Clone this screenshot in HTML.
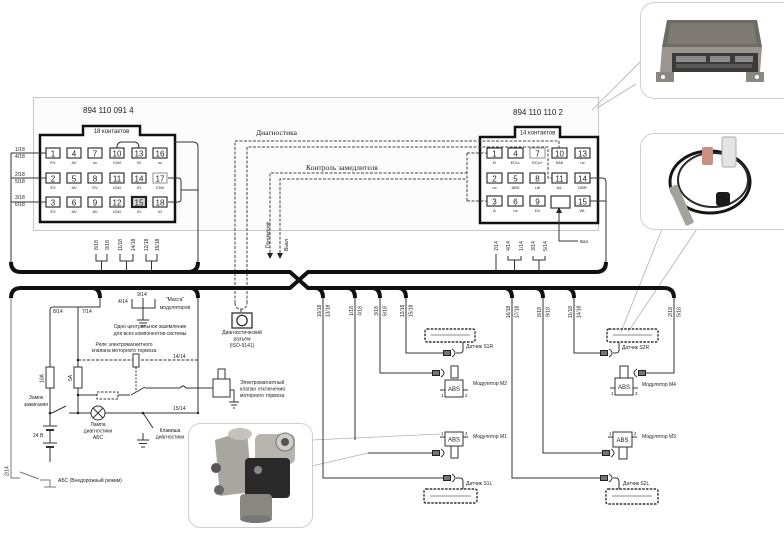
<!DOCTYPE html>
<html><head><meta charset="utf-8"><style>
html,body{margin:0;padding:0;background:#fff;}
svg{display:block;}
text{font-family:"Liberation Sans","DejaVu Sans",sans-serif;fill:#222;}
.s{font-size:5px;}
.p{font-size:4px;}
.n{font-size:8px;}
.ser{font-family:"Liberation Serif","DejaVu Serif",serif;font-size:7.5px;}
</style></head><body>
<svg width="784" height="534" viewBox="0 0 784 534" xmlns="http://www.w3.org/2000/svg">
<rect width="784" height="534" fill="#fff"/>

<!-- frame -->
<rect x="33.5" y="97.5" width="565" height="133" fill="#fcfcfc" stroke="#c8c8c8"/>

<!-- callouts ECU -->
<g stroke="#b0b0b0" stroke-width="0.8" fill="none">
<path d="M642,60 L592,110"/><path d="M636,84 L597,108"/>
<path d="M662,229 L621,332"/><path d="M697,229 L628,332"/>
<path d="M312,440 L440,434"/><path d="M312,466 L368,453"/>
</g>

<!-- ECU photo panel -->
<rect x="640.5" y="2.5" width="160" height="96" rx="14" fill="#fff" stroke="#d0d0d0"/>
<polygon points="667,20 757,20 762,47 662,47" fill="#6e6a64"/>
<polygon points="671,23 753,23 757,44 667,44" fill="#7f7b74"/>
<polygon points="662,47 762,47 760,72 660,72" fill="#9a968f"/>
<rect x="672" y="53" width="86" height="19" fill="#3b3a38"/>
<rect x="676" y="56" width="30" height="6" fill="#8a8a8a"/>
<rect x="710" y="56" width="20" height="6" fill="#8a8a8a"/>
<rect x="735" y="56" width="18" height="6" fill="#8a8a8a"/>
<rect x="676" y="64" width="76" height="4" fill="#5a5a5a"/>
<rect x="656" y="72" width="18" height="10" fill="#8a8680"/>
<rect x="746" y="72" width="18" height="10" fill="#8a8680"/>
<circle cx="663" cy="77" r="2" fill="#fff"/><circle cx="757" cy="77" r="2" fill="#fff"/>

<!-- sensor photo panel -->
<rect x="640.5" y="133.5" width="160" height="96" rx="14" fill="#fff" stroke="#d0d0d0"/>
<ellipse cx="710" cy="182" rx="40" ry="31" stroke="#151515" stroke-width="3" fill="none"/>
<ellipse cx="713" cy="180" rx="35" ry="27" stroke="#2a2a2a" stroke-width="2" fill="none"/>
<path d="M708,165 Q706,152 708,148 M728,166 Q730,160 729,150" stroke="#222" stroke-width="2" fill="none"/>
<rect x="702" y="147" width="11" height="18" rx="2" fill="#c9907f"/>
<rect x="722" y="137" width="14" height="30" rx="2" fill="#e4e4e4" stroke="#aaa"/>
<rect x="-4.5" y="0" width="9" height="42" rx="2" fill="#a5a29c" transform="translate(673,186) rotate(-24)"/>
<rect x="716" y="192" width="14" height="14" rx="3" fill="#1a1a1a"/>

<!-- valve photo panel -->
<rect x="188.5" y="423.5" width="124" height="104" rx="12" fill="#fff" stroke="#cfcfcf"/>
<polygon points="215,440 247,430 252,492 220,496" fill="#a9a6a0"/>
<ellipse cx="240" cy="434" rx="12" ry="6" fill="#c5c2bc"/>
<rect x="255" y="434" width="40" height="30" rx="6" fill="#b8b5af"/>
<circle cx="285" cy="442" r="9" fill="#d0cdc7" stroke="#777"/>
<circle cx="285" cy="442" r="4" fill="#555"/>
<rect x="245" y="458" width="45" height="40" rx="4" fill="#2a2a2a"/>
<circle cx="216" cy="468" r="5" fill="#555"/>
<circle cx="219" cy="490" r="5" fill="#666"/>
<circle cx="258" cy="470" r="4" fill="#888"/>
<rect x="240" y="494" width="32" height="26" rx="4" fill="#8a8780"/>
<ellipse cx="256" cy="519" rx="16" ry="4" fill="#777"/>

<!-- left connector -->
<path d="M40,135 H83 V126 H140 V135 H175 V222 H40 Z" fill="#fff" stroke="#111" stroke-width="2.5"/>
<text x="111.5" y="133" font-size="6" text-anchor="middle">18 контактов</text>
<text x="83" y="113" font-size="8">894 110 091 4</text>
<g fill="#fff" stroke="#222" stroke-width="1.1">
<rect x="46" y="148" width="14" height="10"/><rect x="46" y="173" width="14" height="10"/><rect x="46" y="197" width="14" height="10"/>
<rect x="67" y="148" width="14" height="10"/><rect x="67" y="173" width="14" height="10"/><rect x="67" y="197" width="14" height="10"/>
<rect x="88" y="148" width="14" height="10"/><rect x="88" y="173" width="14" height="10"/><rect x="88" y="197" width="14" height="10"/>
<rect x="110" y="148" width="14" height="10"/><rect x="110" y="173" width="14" height="10"/><rect x="110" y="197" width="14" height="10"/>
<rect x="132" y="148" width="14" height="10"/><rect x="132" y="173" width="14" height="10"/><rect x="132" y="197" width="14" height="10" fill="#d8d8d8" stroke-width="2.2"/>
<rect x="153" y="148" width="14" height="10"/><rect x="153" y="173" width="14" height="10" stroke="#999"/><rect x="153" y="197" width="14" height="10"/>
</g>
<g class="n" text-anchor="middle">
<text x="53" y="156.5">1</text><text x="53" y="181.5">2</text><text x="53" y="205.5">3</text>
<text x="74" y="156.5">4</text><text x="74" y="181.5">5</text><text x="74" y="205.5">6</text>
<text x="95" y="156.5">7</text><text x="95" y="181.5">8</text><text x="95" y="205.5">9</text>
<text x="117" y="156.5">10</text><text x="117" y="181.5">11</text><text x="117" y="205.5">12</text>
<text x="139" y="156.5">13</text><text x="139" y="181.5">14</text><text x="139" y="205.5">15</text>
<text x="160" y="156.5">16</text><text x="160" y="181.5" fill="#999">17</text><text x="160" y="205.5">18</text>
</g>
<g class="p" text-anchor="middle">
<text x="53" y="164">EV</text><text x="53" y="189">EV</text><text x="53" y="213">EV</text>
<text x="74" y="164">AV</text><text x="74" y="189">AV</text><text x="74" y="213">AV</text>
<text x="95" y="164">nc</text><text x="95" y="189">EV</text><text x="95" y="213">AV</text>
<text x="117" y="164">IGM</text><text x="117" y="189">IGM</text><text x="117" y="213">IGM</text>
<text x="139" y="164">IG</text><text x="139" y="189">IG</text><text x="139" y="213">IG</text>
<text x="160" y="164">nc</text><text x="160" y="189">IGM</text><text x="160" y="213">IG</text>
</g>

<!-- right connector -->
<path d="M480,137 H515 V127 H560 V137 H598 V223 H480 Z" fill="#fff" stroke="#111" stroke-width="2.5"/>
<text x="537.5" y="134.5" font-size="6" text-anchor="middle">14 контактов</text>
<text x="513" y="115" font-size="8">894 110 110 2</text>
<g fill="#fff" stroke="#222" stroke-width="1.1">
<rect x="487" y="148" width="15" height="10"/><rect x="487" y="173" width="15" height="10"/><rect x="487" y="196" width="15" height="10"/>
<rect x="508" y="148" width="15" height="10"/><rect x="508" y="173" width="15" height="10"/><rect x="508" y="196" width="15" height="10"/>
<rect x="530" y="148" width="15" height="10" stroke="#999"/><rect x="530" y="173" width="15" height="10"/><rect x="530" y="196" width="15" height="10"/>
<rect x="552" y="148" width="15" height="10"/><rect x="552" y="173" width="15" height="10"/><rect x="551" y="196" width="19" height="12"/>
<rect x="575" y="148" width="15" height="10"/><rect x="575" y="173" width="15" height="10"/><rect x="575" y="196" width="15" height="10"/>
</g>
<g class="n" text-anchor="middle">
<text x="494.5" y="156.5">1</text><text x="494.5" y="181.5">2</text><text x="494.5" y="204.5">3</text>
<text x="515.5" y="156.5">4</text><text x="515.5" y="181.5">5</text><text x="515.5" y="204.5">6</text>
<text x="537.5" y="156.5" fill="#999">7</text><text x="537.5" y="181.5">8</text><text x="537.5" y="204.5">9</text>
<text x="559.5" y="156.5">10</text><text x="559.5" y="181.5">11</text>
<text x="582.5" y="156.5">13</text><text x="582.5" y="181.5">14</text><text x="582.5" y="204.5">15</text>
</g>
<g class="p" text-anchor="middle">
<text x="494.5" y="164">B</text><text x="494.5" y="189">nc</text><text x="494.5" y="212">A</text>
<text x="515.5" y="164">ECU-</text><text x="515.5" y="189">ABS</text><text x="515.5" y="212">nc</text>
<text x="537.5" y="164">ECU+</text><text x="537.5" y="189">Ub</text><text x="537.5" y="212">DV</text>
<text x="559.5" y="164">SAE</text><text x="559.5" y="189">A/L</text>
<text x="582.5" y="164">nc</text><text x="582.5" y="189">DBR</text><text x="582.5" y="212">WL</text>
</g>

<!-- thin wires near connectors -->
<g stroke="#333" stroke-width="1" fill="none">
<path d="M11,153 V264 M11,153 H46 M11,178 H46 M11,202 H46"/>
<path d="M117,148 Q117,142 122,142 H134 Q139,142 139,148"/>
<path d="M175,142 H193 Q198,142 198,147 V265"/>
<path d="M168,178 H178 Q181,178 181,181 V199 Q181,202 178,202 H168 M181,190 H198"/>
<path d="M96,254 V261 H107 V254 M101.5,261 V272"/>
<path d="M120,254 V261 H133 V254 M126.5,261 V272"/>
<path d="M146,254 V261 H157 V254 M151.5,261 V272"/>
<path d="M590,178 H602 Q606,178 606,182 V264 M590,201 H606"/>
<path d="M496,254 V272 M508,256 V260 H521 V256 M514.5,260 V272 M533,256 V260 H545 V256 M539,260 V272"/>
<path d="M559,212 V241 H578"/>
</g>
<polygon points="556,213 562,213 559,207" fill="#222"/>
<text x="580" y="243" font-size="4.5">Вал</text>

<g class="s">
<text x="15" y="151">1/18</text><text x="15" y="158">4/18</text>
<text x="15" y="176">2/18</text><text x="15" y="183">5/18</text>
<text x="15" y="199">3/18</text><text x="15" y="206">6/18</text>
</g>
<g class="s" text-anchor="middle">
<text transform="translate(97.8,245) rotate(-90)">8/18</text>
<text transform="translate(108.8,245) rotate(-90)">9/18</text>
<text transform="translate(121.8,245) rotate(-90)">11/18</text>
<text transform="translate(134.8,245) rotate(-90)">14/18</text>
<text transform="translate(147.8,245) rotate(-90)">12/18</text>
<text transform="translate(158.8,245) rotate(-90)">15/18</text>
<text transform="translate(497.8,246) rotate(-90)">2/14</text>
<text transform="translate(509.8,246) rotate(-90)">4/14</text>
<text transform="translate(522.8,246) rotate(-90)">1/14</text>
<text transform="translate(534.8,246) rotate(-90)">3/14</text>
<text transform="translate(546.8,246) rotate(-90)">5/14</text>
</g>

<!-- dashed signal lines -->
<g stroke="#444" stroke-width="1" fill="none" stroke-dasharray="3 1.5">
<path d="M235,303 V141 H559 V148"/>
<path d="M247,303 V147 H548 V178 H552"/>
<path d="M270,253 V173 H467 M467,153 V201 M467,153 H487 M467,201 H487"/>
<path d="M280,253 V179 H467"/>
<path d="M235,303 Q235,309 241,309 Q247,309 247,303 M241,309 V313"/>
</g>
<polygon points="267,253 273,253 270,259" fill="#222"/>
<polygon points="277,253 283,253 280,259" fill="#222"/>
<text class="ser" x="256" y="135">Диагностика</text>
<text class="ser" x="306" y="170">Контроль замедлителя</text>
<text class="s" transform="translate(269.5,248) rotate(-90)">Понижение</text>
<text class="s" transform="translate(288,251) rotate(-90)">Выкл</text>

<!-- diagnostic socket -->
<rect x="232" y="313" width="20" height="15" fill="#fff" stroke="#222" stroke-width="1.2"/>
<circle cx="242" cy="320.5" r="5.2" fill="none" stroke="#222" stroke-width="1.2"/>
<g class="s" text-anchor="middle">
<text x="242" y="334">Диагностический</text>
<text x="242" y="340.5">разъем</text>
<text x="242" y="347">(ISO-9141)</text>
</g>

<!-- buses -->
<g stroke="#111" stroke-width="4" fill="none">
<path d="M11,262 Q11,272 21,272 H290 L308,288 H664 Q674,288 674,298"/>
<path d="M11,298 Q11,288 21,288 H290 L308,272 H596 Q606,272 606,262"/>
<path d="M198,262 Q198,272 188,272"/>
<path d="M92,288 Q100,288 100,298"/>
<path d="M190,288 Q198,288 198,298"/>
<path d="M315,288 Q323,288 323,298"/>
<path d="M347,288 Q355,288 355,298"/>
<path d="M372,288 Q380,288 380,298"/>
<path d="M398,288 Q406,288 406,298"/>
<path d="M504,288 Q512,288 512,298"/>
<path d="M535,288 Q543,288 543,298"/>
<path d="M566,288 Q574,288 574,298"/>
</g>

<!-- drop labels -->
<g class="s" text-anchor="middle">
<text transform="translate(320.8,311) rotate(-90)">10/18</text><text transform="translate(329.3,311) rotate(-90)">13/18</text>
<text transform="translate(352.8,311) rotate(-90)">1/18</text><text transform="translate(361.3,311) rotate(-90)">4/18</text>
<text transform="translate(377.8,311) rotate(-90)">3/18</text><text transform="translate(386.3,311) rotate(-90)">6/18</text>
<text transform="translate(403.8,311) rotate(-90)">12/18</text><text transform="translate(412.3,311) rotate(-90)">15/18</text>
<text transform="translate(509.8,312) rotate(-90)">16/18</text><text transform="translate(518.3,312) rotate(-90)">17/18</text>
<text transform="translate(540.8,312) rotate(-90)">8/18</text><text transform="translate(549.3,312) rotate(-90)">9/18</text>
<text transform="translate(571.8,312) rotate(-90)">11/18</text><text transform="translate(580.3,312) rotate(-90)">14/18</text>
<text transform="translate(671.8,312) rotate(-90)">2/18</text><text transform="translate(680.3,312) rotate(-90)">5/18</text>
</g>

<!-- left circuit -->
<g stroke="#333" stroke-width="1" fill="none">
<path d="M100,298 V307 H53 Q50,307 50,310 V367 M50,388 V413"/>
<path d="M78,307 V367 M78,388 V413"/>
<rect x="46" y="367" width="8" height="21" fill="#fff"/>
<rect x="74" y="367" width="8" height="21" fill="#fff"/>
<path d="M78,360 H198" stroke-dasharray="3 1.5"/>
<rect x="133" y="354" width="6" height="13" fill="#fff"/>
<path d="M136,367 V392" stroke-dasharray="2 1.5"/>
<rect x="97" y="392" width="21" height="7" stroke-dasharray="2.5 1.5"/>
<path d="M78,395 H97 M118,395 H130 M131,395 L145,387 M145,388 H180 Q183,384 186,388 H213"/>
<path d="M50,413 H52 M52,413 L66,406 M69,413 H91 M105,413 H198"/>
<circle cx="98" cy="413" r="7" fill="#fff"/>
<path d="M93,408 L103,418 M103,408 L93,418"/>
<path d="M198,298 V413"/>
<path d="M143,413 L153,428"/>
<path d="M143,433 V440 M137,440 H149 M139,443.5 H147 M141,447 H145"/>
<path d="M50,413 V426 M43,426 H57 M50,430 V443 M43,443 H57 M50,447 V462"/>
<path d="M46,430 H54 M46,447 H54" stroke-width="2"/>
<path d="M143,298 V320 M137,320 H149 M139,323 H147 M141,326 H145"/>
<path d="M132,299 V308 H155 V299"/>
<rect x="218" y="369" width="7" height="11" fill="#fff"/>
<rect x="213" y="379" width="17" height="18" fill="#fff"/>
<path d="M230,390 H234 V402 M229,402 H239 M231,405 H237 M233,408 H235"/>
</g>
<g fill="#222">
<circle cx="78" cy="360" r="1.3"/><circle cx="78" cy="395" r="1.3"/><circle cx="78" cy="413" r="1.3"/>
<circle cx="50" cy="413" r="1.3"/><circle cx="143" cy="413" r="1.3"/><circle cx="198" cy="413" r="1.2"/>
</g>
<g stroke="#777" stroke-width="1" fill="none">
<path d="M11,298 V478 H20 M20,472 L39,479 M40,480 H50 V487 M44,487 H56"/>
</g>
<g class="s">
<text x="53" y="313">8/14</text><text x="82" y="313">7/14</text>
<text x="137" y="296">9/14</text><text x="118" y="303">4/14</text>
<text x="175" y="301" text-anchor="middle">"Масса"</text>
<text x="175" y="309" text-anchor="middle">модуляторов</text>
<text x="150" y="328" text-anchor="middle">Одно центральное заземление</text>
<text x="150" y="335" text-anchor="middle">для всех компонентов системы</text>
<text x="124" y="346" text-anchor="middle">Реле электромагнитного</text>
<text x="124" y="352" text-anchor="middle">клапана моторного тормоза</text>
<text x="173" y="358">14/14</text>
<text x="173" y="410">15/14</text>
<text transform="translate(43.5,383) rotate(-90)">10А</text>
<text transform="translate(72,381) rotate(-90)">5А</text>
<text x="36" y="399" text-anchor="middle">Замок</text>
<text x="36" y="406" text-anchor="middle">зажигания</text>
<text x="33" y="437">24 В</text>
<text x="98" y="426" text-anchor="middle">Лампа</text>
<text x="98" y="432.5" text-anchor="middle">диагностики</text>
<text x="98" y="439" text-anchor="middle">АБС</text>
<text x="170" y="432" text-anchor="middle">Клавиша</text>
<text x="170" y="438.5" text-anchor="middle">диагностики</text>
<text x="240" y="384">Электромагнитный</text>
<text x="240" y="390.5">клапан отключения</text>
<text x="240" y="397">моторного тормоза</text>
<text transform="translate(8.5,476) rotate(-90)">2/14</text>
<text x="58" y="482">АБС (Внедорожный режим)</text>
</g>

<!-- right side wires -->
<g stroke="#333" stroke-width="1" fill="none">
<path d="M323,298 V478 H443"/>
<path d="M355,298 V440"/>
<path d="M380,298 V373 H432"/>
<path d="M406,298 V353 H443"/>
<path d="M368,453 H432"/>
<path d="M512,298 V478 H600"/>
<path d="M543,298 V453 H602"/>
<path d="M574,298 V353 H600"/>
<path d="M674,298 V373 H646"/>
</g>

<!-- connectors -->
<g fill="#222">
<rect x="443" y="350" width="8" height="6"/><rect x="432" y="370" width="8" height="6"/>
<rect x="432" y="450" width="8" height="6"/><rect x="443" y="475" width="8" height="6"/>
<rect x="600" y="350" width="8" height="6"/><rect x="602" y="450" width="8" height="6"/>
<rect x="600" y="475" width="8" height="6"/><rect x="638" y="370" width="8" height="6"/>
</g>
<g stroke="#fff" stroke-width="0.7">
<path d="M444,352 H450 M444,354 H450 M433,372 H439 M433,374 H439 M433,452 H439 M433,454 H439 M444,477 H450 M444,479 H450 M601,352 H607 M601,354 H607 M603,452 H609 M603,454 H609 M601,477 H607 M601,479 H607 M639,372 H645 M639,374 H645"/>
</g>
<g stroke="#333" stroke-width="1" fill="none">
<path d="M452,349 Q458,353 452,357 M456,353 H460 Q463,353 463,350 V342"/>
<path d="M441,369 Q447,373 441,377"/>
<path d="M441,449 Q447,453 441,457"/>
<path d="M452,474 Q458,478 452,482 M456,478 H460 Q463,478 463,482 V489"/>
<path d="M609,349 Q615,353 609,357 M613,353 H616 Q619,353 619,350 V342"/>
<path d="M611,449 Q617,453 611,457"/>
<path d="M609,474 Q615,478 609,482 M613,478 H616 Q619,478 619,482 V489"/>
<path d="M637,369 Q631,373 637,377"/>
</g>

<!-- sensors -->
<g stroke="#333" stroke-width="1.4" fill="none" stroke-dasharray="2.5 1.3">
<rect x="425" y="329" width="50" height="13" rx="2"/>
<rect x="607" y="329" width="51" height="13" rx="2"/>
<rect x="424" y="489" width="53" height="14" rx="2"/>
<rect x="606" y="489" width="52" height="15" rx="2"/>
</g>
<g stroke="#666" stroke-width="0.8">
<path d="M431,335 H470 M613,335 H652 M430,496 H471 M612,496 H652"/>
</g>
<g class="s">
<text x="466" y="348">Датчик S1R</text>
<text x="622" y="349">Датчик S2R</text>
<text x="466" y="485">Датчик S1L</text>
<text x="623" y="485">Датчик S2L</text>
<text x="473" y="385">Модулятор M2</text>
<text x="473" y="438">Модулятор M1</text>
<text x="642" y="438">Модулятор M3</text>
<text x="642" y="386">Модулятор M4</text>
</g>

<!-- modulators -->
<g stroke="#333" stroke-width="1" fill="#fff">
<rect x="451" y="366" width="7" height="12"/>
<rect x="445" y="380" width="18" height="17"/>
<rect x="451" y="446" width="7" height="12"/>
<rect x="445" y="432" width="18" height="14"/>
<rect x="619" y="447" width="8" height="12"/>
<rect x="613" y="432" width="19" height="15"/>
<rect x="620" y="366" width="8" height="12"/>
<rect x="615" y="378" width="18" height="17"/>
<path d="M440,390 H445 M463,390 H468 M440,437 H445 M463,437 H468 M608,437 H613 M632,437 H637 M610,388 H615 M633,388 H638" fill="none"/>
</g>
<g font-size="6" text-anchor="middle">
<text x="454" y="391">ABS</text>
<text x="454" y="441.5">ABS</text>
<text x="622.5" y="442">ABS</text>
<text x="624" y="389">ABS</text>
</g>
<g font-size="4.5">
<text x="441" y="397">1</text><text x="465" y="397">2</text>
<text x="441" y="435">1</text><text x="465" y="435">2</text>
<text x="609" y="435">1</text><text x="634" y="435">2</text>
<text x="611" y="395">1</text><text x="635" y="395">2</text>
</g>
</svg>
</body></html>
